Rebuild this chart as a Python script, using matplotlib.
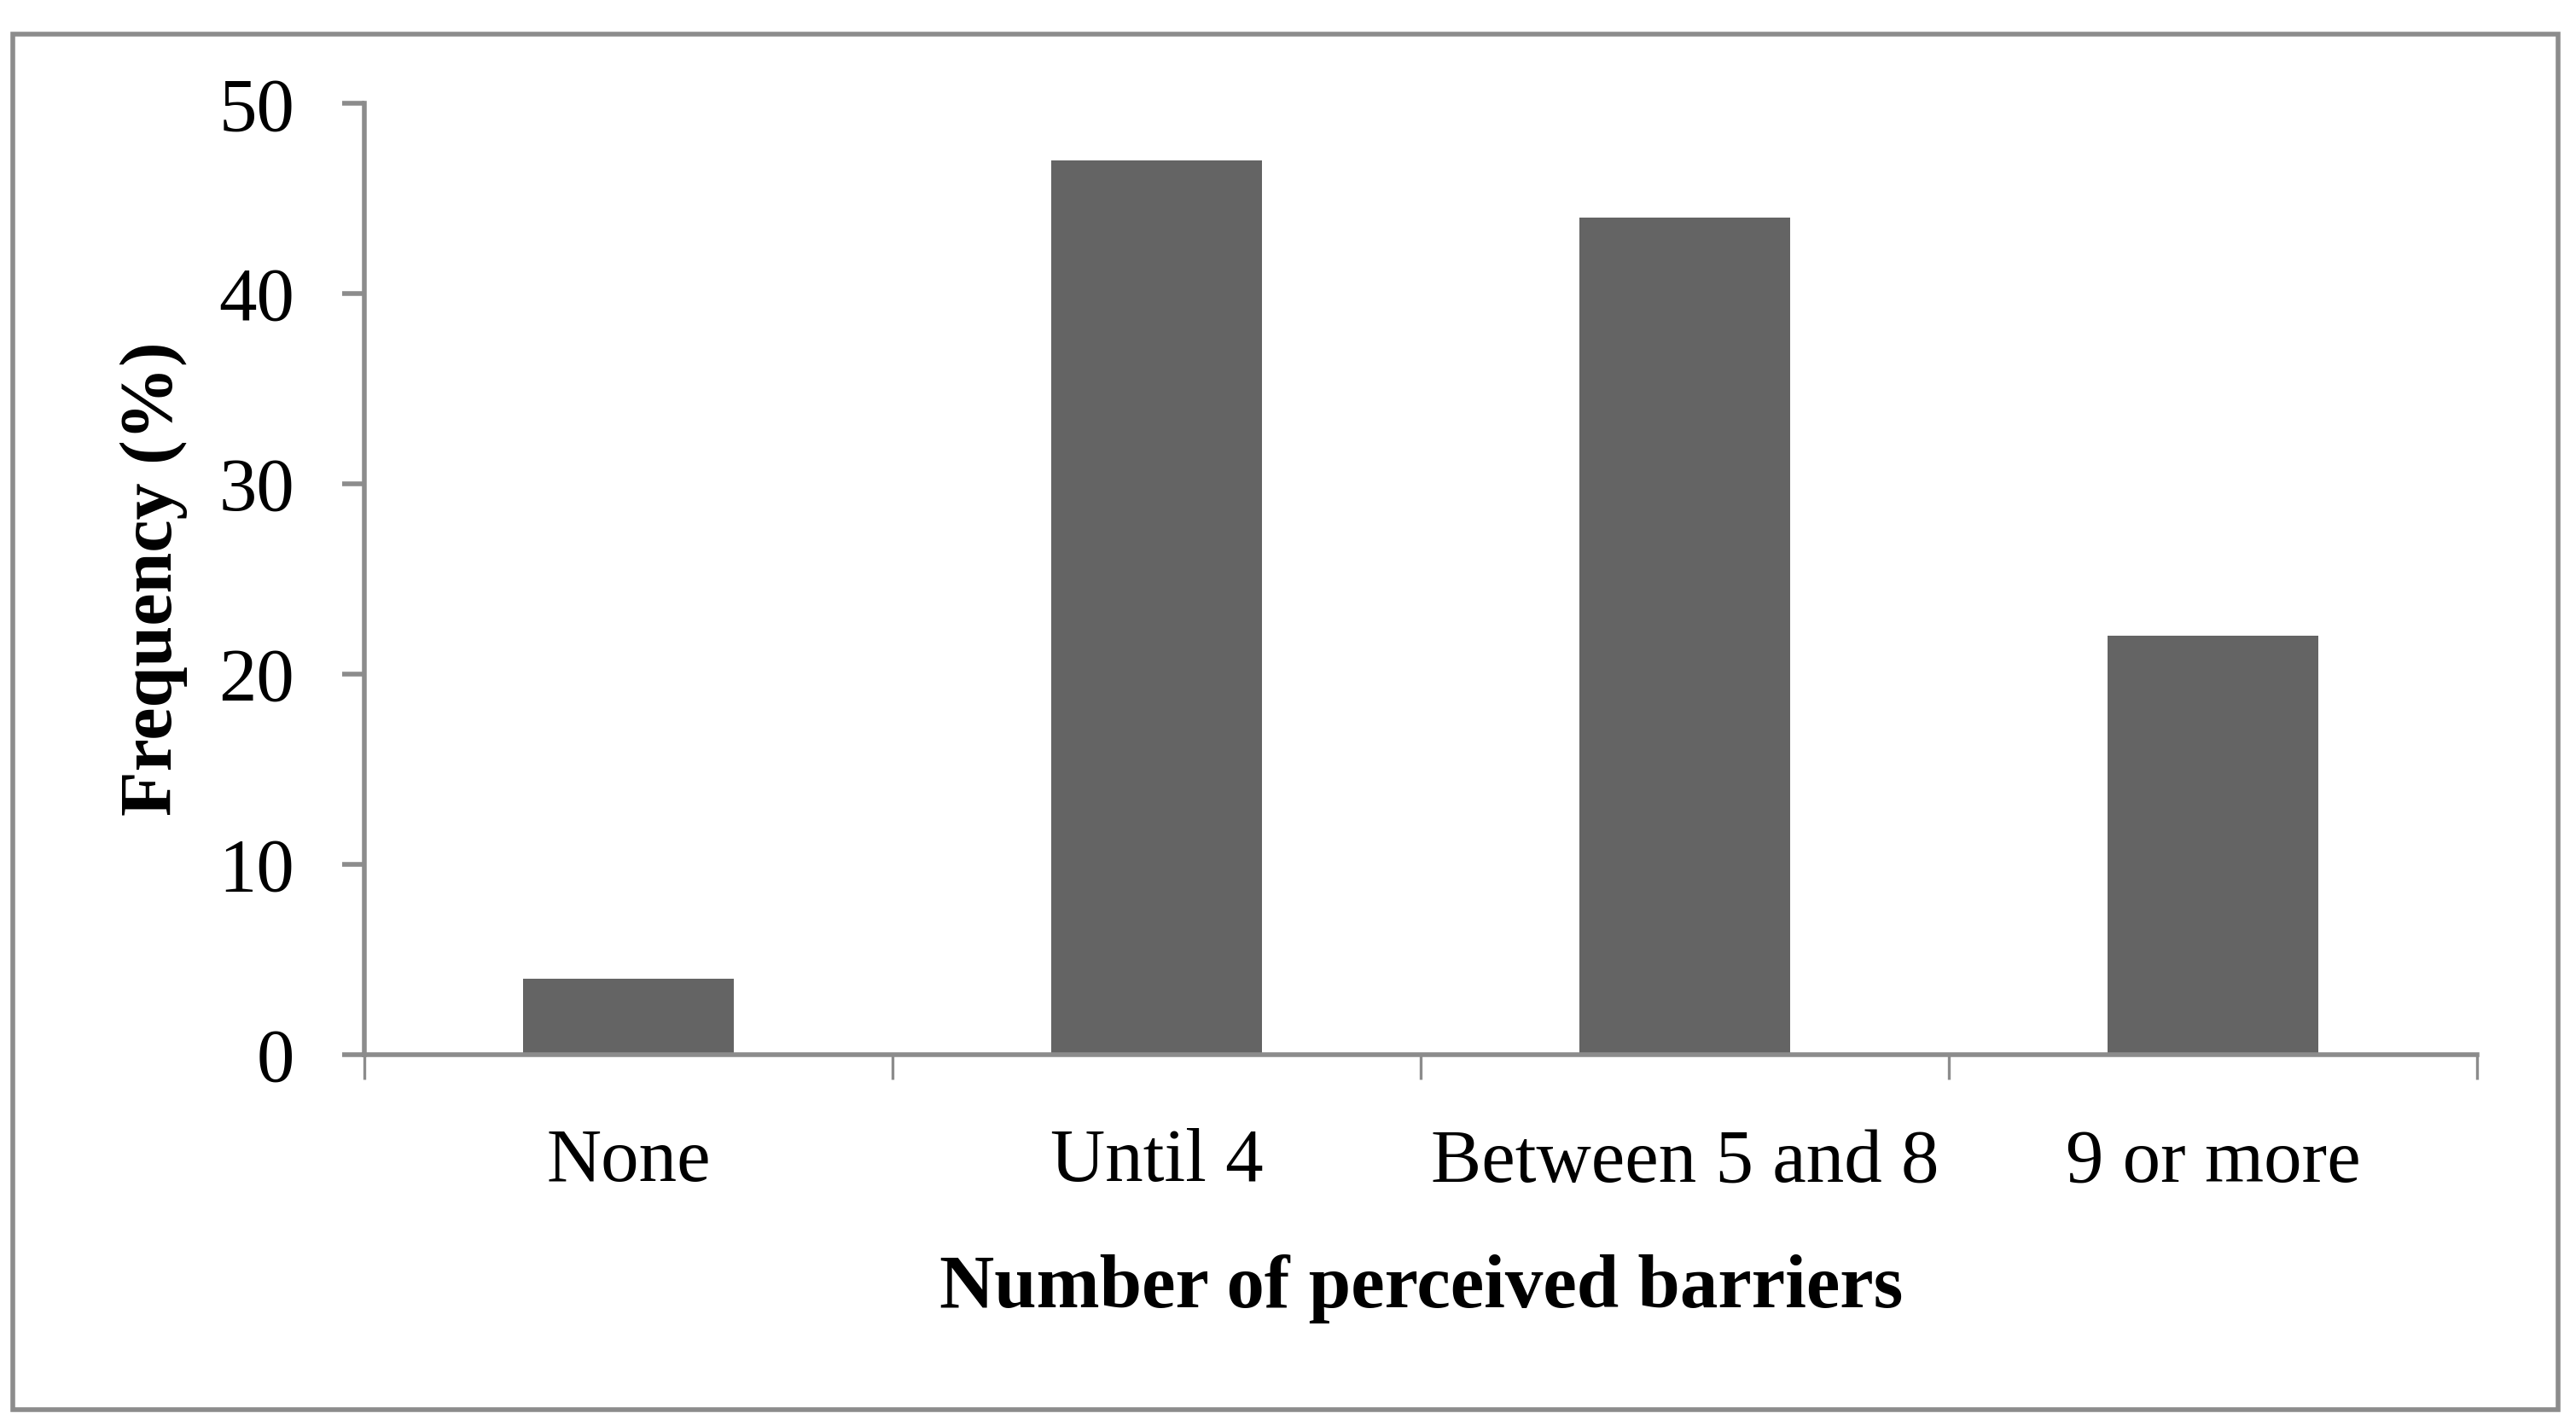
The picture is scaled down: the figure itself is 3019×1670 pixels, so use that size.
import matplotlib

matplotlib.use("Agg")
import matplotlib.pyplot as plt
from matplotlib.patches import Rectangle

# values
categories = ["None", "Until 4", "Between 5 and 8", "9 or more"]
frequency = [4, 47, 44, 22]
y_ticks = [0, 10, 20, 30, 40, 50]

BAR = "#646464"
AXIS = "#8c8c8c"

plt.rcParams["font.family"] = ["Liberation Serif", "DejaVu Serif"]

fig = plt.figure(figsize=(15.095, 8.35), dpi=200)
ax = fig.add_axes([0.1415, 0.2599, 0.8201, 0.6676])

x = range(len(categories))
ax.bar(x, frequency, width=0.4, color=BAR, zorder=2)

ax.set_xlim(-0.5, len(categories) - 0.5)
ax.set_ylim(0, 50)
ax.set_yticks(y_ticks)
# category boundaries carry the tick marks, labels sit between them
ax.set_xticks([i - 0.5 for i in range(len(categories) + 1)], minor=False)
ax.set_xticklabels([])
ax.set_xticks(list(x), minor=True)
ax.set_xticklabels(categories, minor=True)

for side in ("top", "right"):
    ax.spines[side].set_visible(False)
for side in ("left", "bottom"):
    ax.spines[side].set_color(AXIS)
    ax.spines[side].set_linewidth(2.0)

ax.tick_params(axis="y", which="major", direction="out", length=9.5, width=2.0,
               color=AXIS, labelsize=32, pad=20)
ax.tick_params(axis="x", which="major", direction="out", length=10.5, width=1.2,
               color=AXIS)
ax.tick_params(axis="x", which="minor", length=0, labelsize=32, pad=31)

ax.set_xlabel("Number of perceived barriers", fontsize=32, fontweight="bold",
              labelpad=24)
ax.set_ylabel("Frequency (%)", fontsize=31, fontweight="bold", labelpad=13)

# outer border around the whole chart
fig.patches.append(Rectangle((0.005, 0.011), 0.988, 0.965, transform=fig.transFigure,
                             fill=False, edgecolor=AXIS, linewidth=2.0))

fig.savefig("out.png", dpi=200, facecolor="white")
